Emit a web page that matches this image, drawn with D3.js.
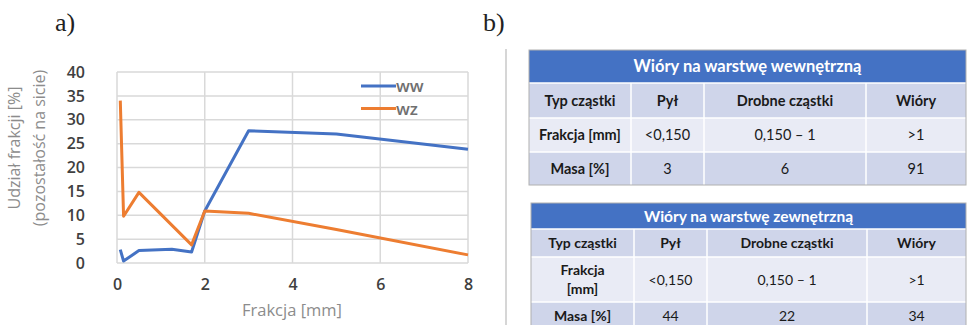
<!DOCTYPE html>
<html><head><meta charset="utf-8">
<script src="https://cdn.jsdelivr.net/npm/d3@7"></script>
<style>body{margin:0;background:#fff}svg{display:block}</style>
</head><body>
<svg id="c" width="968" height="325"></svg>
<script>
const fractions = [0.075, 0.15, 0.5, 1.25, 1.7, 2, 3, 5, 8];
const wwValues = [2.8, 0.4, 2.6, 2.9, 2.3, 10.9, 27.7, 27.0, 23.8];
const wzX = [0.075, 0.15, 0.5, 1.7, 2, 3, 5, 8];
const wzValues = [34, 9.8, 14.8, 3.8, 10.9, 10.4, 7.0, 1.7];
const xTicks = [0, 2, 4, 6, 8];
const yTicks = [0, 5, 10, 15, 20, 25, 30, 35, 40];
const seriesNames = ["ww", "wz"];
const colHeaders = ["Typ cząstki", "Pył", "Drobne cząstki", "Wióry"];
const table1Title = "Wióry na warstwę wewnętrzną";
const table1Rows = [["Frakcja [mm]", "<0,150", "0,150 – 1", ">1"], ["Masa [%]", "3", "6", "91"]];
const table2Title = "Wióry na warstwę zewnętrzną";
const table2Rows = [["Frakcja\n[mm]", "<0,150", "0,150 – 1", ">1"], ["Masa [%]", "44", "22", "34"]];

const svg = d3.select("#c");
const x = d3.scaleLinear().domain([0, 8]).range([117, 468]);
const y = d3.scaleLinear().domain([0, 40]).range([263, 72]);
const colors = ["#4472C4", "#ED7D31"];

// panel labels
svg.append("text").attr("x", 55).attr("y", 31).attr("font-family", "Liberation Serif, DejaVu Serif, serif").attr("font-size", 26).attr("fill", "#222").text("a)");
svg.append("text").attr("x", 483).attr("y", 31).attr("font-family", "Liberation Serif, DejaVu Serif, serif").attr("font-size", 26).attr("fill", "#222").text("b)");

// grid
const g = svg.append("g");
g.selectAll(".hy").data(yTicks).enter().append("line")
  .attr("x1", x(0)).attr("x2", x(8)).attr("y1", d => y(d)).attr("y2", d => y(d))
  .attr("stroke", "#d9d9d9").attr("stroke-width", 1.5);
g.selectAll(".vx").data(xTicks).enter().append("line")
  .attr("y1", y(0)).attr("y2", y(40)).attr("x1", d => x(d)).attr("x2", d => x(d))
  .attr("stroke", "#d9d9d9").attr("stroke-width", 1.5);

// axes
const xAxis = d3.axisBottom(x).tickValues(xTicks).tickSize(0).tickPadding(16);
const yAxis = d3.axisLeft(y).tickValues(yTicks).tickSize(0).tickPadding(32);
const gx = svg.append("g").attr("transform", `translate(0,${y(0)})`).call(xAxis);
const gy = svg.append("g").attr("transform", `translate(${x(0)},0)`).call(yAxis);
[gx, gy].forEach(a => {
  a.select(".domain").remove();
  a.selectAll("text").attr("font-family", "Open Sans, sans-serif").attr("font-size", 16).attr("font-weight", 600).attr("fill", "#404040");
});

svg.append("text").attr("x", 292).attr("y", 316).attr("text-anchor", "middle")
  .attr("font-family", "Open Sans, sans-serif").attr("font-size", 16.5).attr("fill", "#8c8c8c").text("Frakcja [mm]");
svg.append("text").attr("transform", "translate(20,148) rotate(-90)").attr("text-anchor", "middle")
  .attr("font-family", "Open Sans, sans-serif").attr("font-size", 16).attr("fill", "#8c8c8c").text("Udział frakcji [%]");
svg.append("text").attr("transform", "translate(45,148) rotate(-90)").attr("text-anchor", "middle")
  .attr("font-family", "Open Sans, sans-serif").attr("font-size", 16).attr("fill", "#8c8c8c").text("(pozostałość na sicie)");

// lines
const line = d3.line().x(d => x(d[0])).y(d => y(d[1]));
const wwData = fractions.map((f, i) => [f, wwValues[i]]);
const wzData = wzX.map((f, i) => [f, wzValues[i]]);
[wwData, wzData].forEach((d, i) => {
  svg.append("path").datum(d).attr("d", line).attr("fill", "none")
    .attr("stroke", colors[i]).attr("stroke-width", 3).attr("stroke-linejoin", "round");
});

// legend
seriesNames.forEach((n, i) => {
  const ly = 86 + i * 22.5;
  svg.append("line").attr("x1", 361).attr("x2", 396).attr("y1", ly).attr("y2", ly).attr("stroke", colors[i]).attr("stroke-width", 3);
  svg.append("text").attr("x", 396).attr("y", ly + 6).attr("font-family", "Open Sans, sans-serif").attr("font-size", 17).attr("font-weight", 600).attr("fill", "#707070").text(n);
});

// separator
svg.append("line").attr("x1", 506).attr("x2", 506).attr("y1", 49).attr("y2", 325).attr("stroke", "#c8c8c8").attr("stroke-width", 1.5);

// tables
function drawTable(x0, y0, colX, rowYs, title, rows, titleSize, cellSize) {
  const t = svg.append("g");
  const xr = colX[colX.length - 1];
  t.append("rect").attr("x", x0).attr("y", y0).attr("width", xr - x0).attr("height", rowYs[0] - y0).attr("fill", "#4472C4");
  t.append("text").attr("x", (x0 + xr) / 2).attr("y", (y0 + rowYs[0]) / 2 + titleSize * 0.36).attr("text-anchor", "middle")
    .attr("font-family", "Lato, sans-serif").attr("font-weight", 700).attr("font-size", titleSize).attr("fill", "#fff").text(title);
  const all = [colHeaders].concat(rows);
  all.forEach((r, ri) => {
    const ya = rowYs[ri], yb = rowYs[ri + 1];
    t.append("rect").attr("x", x0).attr("y", ya).attr("width", xr - x0).attr("height", yb - ya)
      .attr("fill", ri % 2 === 0 ? "#CFD5EA" : "#E9EBF5");
    const cols = [x0].concat(colX);
    r.forEach((c, ci) => {
      const cx = (cols[ci] + cols[ci + 1]) / 2;
      const lines = c.split("\n");
      const bold = ri === 0 || ci === 0;
      lines.forEach((ln, li) => {
        const cy = (ya + yb) / 2 + cellSize * 0.36 + (li - (lines.length - 1) / 2) * cellSize * 1.4;
        t.append("text").attr("x", cx).attr("y", cy).attr("text-anchor", "middle")
          .attr("font-family", "Lato, sans-serif").attr("font-weight", bold ? 700 : 400)
          .attr("font-size", cellSize).attr("fill", "#1a1a1a").text(ln);
      });
    });
    t.append("line").attr("x1", x0).attr("x2", xr).attr("y1", ya).attr("y2", ya).attr("stroke", "#fff").attr("stroke-width", 1.5);
  });
  colX.slice(0, -1).forEach(cx => {
    t.append("line").attr("x1", cx).attr("x2", cx).attr("y1", rowYs[0]).attr("y2", rowYs[rowYs.length - 1]).attr("stroke", "#fff").attr("stroke-width", 1.5);
  });
  t.append("rect").attr("x", x0).attr("y", y0).attr("width", xr - x0).attr("height", rowYs[rowYs.length - 1] - y0)
    .attr("fill", "none").attr("stroke", "#b0b0b0").attr("stroke-width", 1);
}
drawTable(529, 50, [631, 704, 866, 966], [83, 118, 152, 185], table1Title, table1Rows, 16.5, 14.5);
drawTable(531, 203, [634, 707, 867, 966], [229, 257, 302, 330], table2Title, table2Rows, 15.5, 14);
</script>
</body></html>
